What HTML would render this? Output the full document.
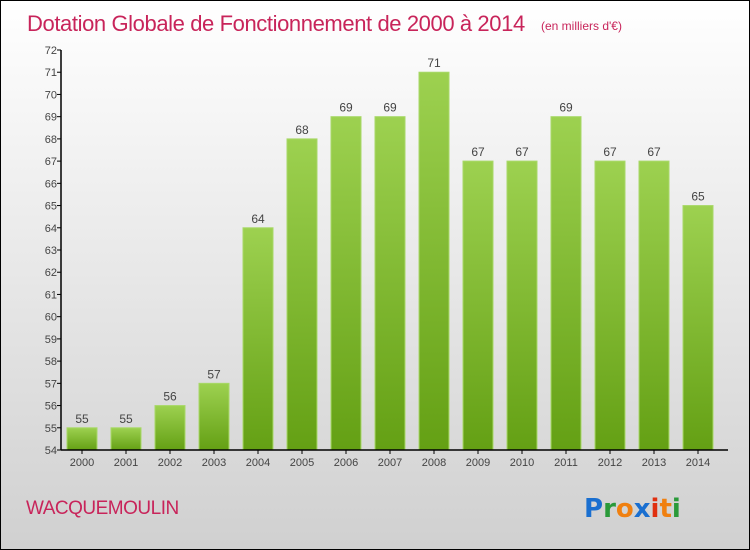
<!DOCTYPE html>
<html><head><meta charset="utf-8"><style>
html,body{margin:0;padding:0;}
body{width:750px;height:550px;overflow:hidden;font-family:"Liberation Sans",sans-serif;}
#wrap{position:absolute;left:0;top:0;width:748px;height:548px;border:1px solid #000;background:linear-gradient(#ffffff,#d0d0d0);}
</style></head><body>
<div id="wrap">
<svg id="chart" width="748" height="548" style="position:absolute;left:0;top:0">
<defs><linearGradient id="bg" x1="0" y1="0" x2="0" y2="1"><stop offset="0" stop-color="#9dd150"/><stop offset="1" stop-color="#64a014"/></linearGradient></defs>
<text x="26" y="30" font-size="22" fill="#c8245a" style="letter-spacing:-0.4px">Dotation Globale de Fonctionnement de 2000 à 2014</text>
<text x="540" y="29" font-size="12" fill="#c8245a">(en milliers d'€)</text>
<text x="25" y="513" font-size="19" fill="#c8245a" style="letter-spacing:-0.5px">WACQUEMOULIN</text>
<g font-size="26" font-weight="bold" font-family="'DejaVu Sans',sans-serif">
<text x="583" y="516"><tspan fill="#1a6fd0">P</tspan><tspan fill="#2a9a3a">r</tspan><tspan fill="#f08010">o</tspan><tspan fill="#1a6fd0">x</tspan><tspan fill="#e03010">i</tspan><tspan fill="#f08010">t</tspan><tspan fill="#2a9a3a">i</tspan></text>
</g>
</svg>
</div>
<script>
const years=["2000","2001","2002","2003","2004","2005","2006","2007","2008","2009","2010","2011","2012","2013","2014"];
const values=[55,55,56,57,64,68,69,69,71,67,67,69,67,67,65];
const yTicks=[54,55,56,57,58,59,60,61,62,63,64,65,66,67,68,69,70,71,72];
(function(){
const svg=document.getElementById('chart');
const NS='http://www.w3.org/2000/svg';
const yMin=54,yMax=72,plotTop=49,plotBot=449,axisX=60;
function y(v){return plotBot-(v-yMin)/(yMax-yMin)*(plotBot-plotTop);}
function x(i){return 81+i*44;}
function mk(t,a){const e=document.createElementNS(NS,t);for(const k in a)e.setAttribute(k,a[k]);svg.appendChild(e);return e;}
yTicks.forEach(v=>{
 const l=mk('line',{x1:axisX-4,x2:axisX,y1:y(v),y2:y(v),stroke:'#000'});
 
 
 const t=mk('text',{x:axisX-4,y:y(v)+4,'text-anchor':'end','font-size':'11',fill:'#444'});
 t.textContent=v;
 
 
});
years.forEach((yr,i)=>{
 const v=values[i];
 const r=mk('rect',{x:x(i)-15,y:y(v),width:30,height:plotBot-y(v),fill:'url(#bg)',stroke:'#a8d868','stroke-width':'1'});
 
 
 const t=mk('text',{x:x(i),y:y(v)-5,'text-anchor':'middle','font-size':'12',fill:'#444'});
 t.textContent=v;
 
 
 const tk=mk('line',{x1:x(i),x2:x(i),y1:plotBot,y2:plotBot+4,stroke:'#000'});
 
 
 const xl=mk('text',{x:x(i),y:plotBot+16,'text-anchor':'middle','font-size':'11',fill:'#444'});
 xl.textContent=yr;
 
 
});
const ya=mk('line',{x1:axisX,x2:axisX,y1:plotTop,y2:plotBot,stroke:'#000','stroke-width':'1.5'});


const xa=mk('line',{x1:axisX,x2:727,y1:plotBot,y2:plotBot,stroke:'#000','stroke-width':'1.5'});


})();
</script>
</body></html>
